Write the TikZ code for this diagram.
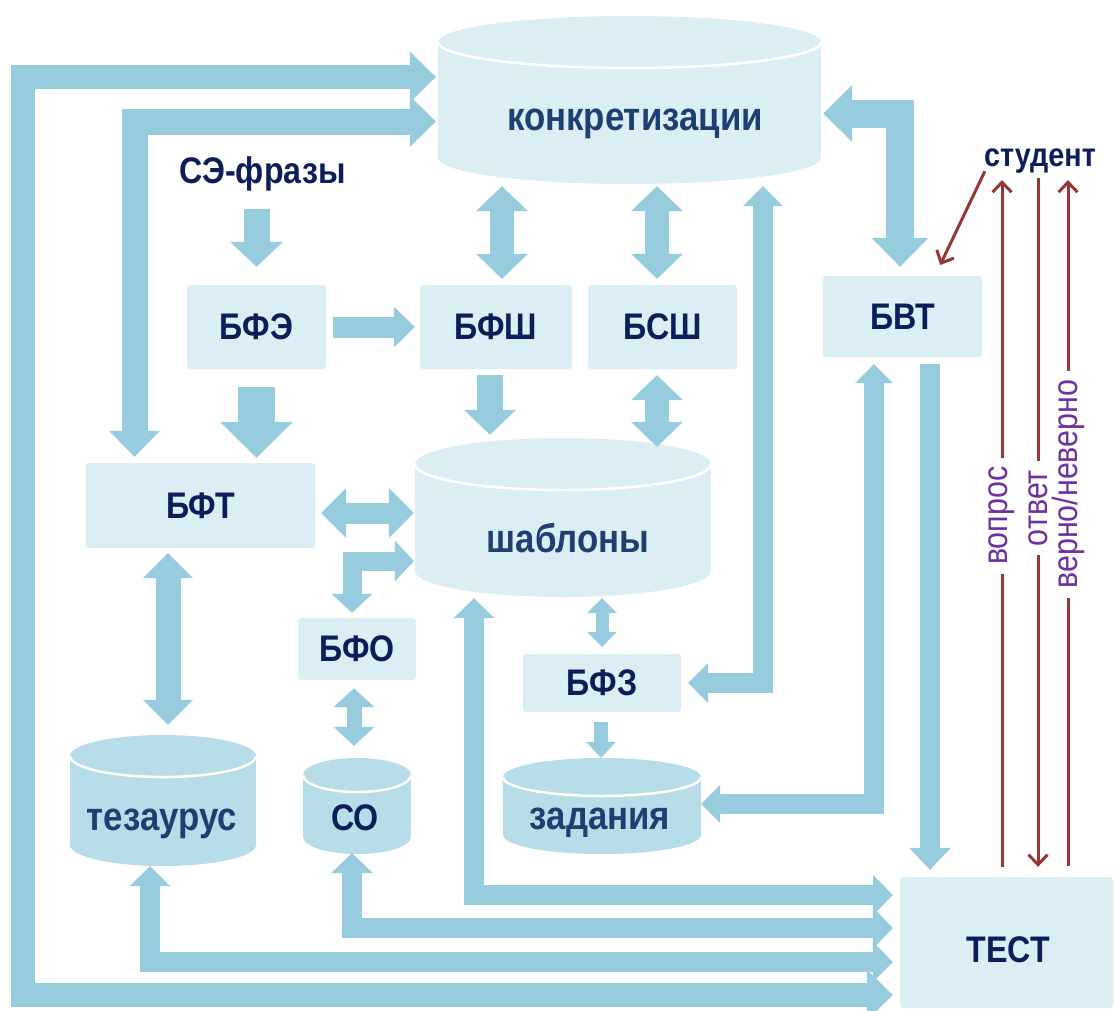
\documentclass[tikz,border=0pt]{standalone}
\usepackage{fontspec}
\setmainfont{Liberation Sans}[FakeStretch=0.87]
\usetikzlibrary{arrows.meta}
\definecolor{boxc}{HTML}{DBEEF4}
\definecolor{cylc}{HTML}{B7DDE8}
\definecolor{arrc}{HTML}{96CCDD}
\definecolor{navy}{HTML}{0C1E5A}
\definecolor{lblue}{HTML}{1F3E72}
\definecolor{redc}{HTML}{953735}
\definecolor{purp}{HTML}{7030A0}
% cx, top-centre y, bottom-centre y, rx, ry, colour
\newcommand{\cylshape}[6]{%
  \fill[#6] (#1,#3) ellipse [x radius=#4, y radius=#5];
  \fill[#6] (#1-#4,#2) rectangle (#1+#4,#3);
  \fill[#6] (#1,#2) ellipse [x radius=#4, y radius=#5];
  \begin{scope}
    \clip (#1-#4-5,#2) rectangle (#1+#4+5,#2+#5+5);
    \draw[white, line width=2.5pt] (#1,#2) ellipse [x radius=#4, y radius=#5];
  \end{scope}}
\begin{document}
\begin{tikzpicture}[x=1pt,y=-1pt,
  box/.style={fill=boxc, rounded corners=3pt, inner sep=0pt},
  upl/.style={text=navy, font=\bfseries\fontsize{37}{40}\selectfont},
  lowl/.style={text=lblue, font=\bfseries\fontsize{40}{44}\selectfont, inner sep=0pt, anchor=base},
  hold/.style={inner sep=0pt},
  conn/.style={draw=arrc, line width=#1, line join=miter},
  one/.style n args={3}{conn=#1, arrows={-{Triangle[length=#2,width=#3,line width=0pt]}}},
  two/.style n args={3}{conn=#1, arrows={{Triangle[length=#2,width=#3,line width=0pt]}-{Triangle[length=#2,width=#3,line width=0pt]}}},
  redln/.style={draw=redc, line width=3pt, arrows={-{Straight Barb[length=10pt,width=19pt]}}},
  vlab/.style={rotate=90, fill=white, text=purp, font=\fontsize{35}{38}\selectfont, inner xsep=9pt, inner ysep=1pt},
]
\useasboundingbox (0,0) rectangle (1115,1010);

% cylinders
\cylshape{629.5}{42}{158}{191.5}{26}{boxc}
\cylshape{563}{464}{571}{148}{26}{boxc}
\cylshape{163}{756}{845}{93}{21}{cylc}
\cylshape{357}{775}{837}{54}{17}{cylc}
\cylshape{602}{777}{835}{99}{19}{cylc}
\node[hold, minimum width=383pt, minimum height=168pt] (kon) at (629.5,100) {};
\node[hold, minimum width=296pt, minimum height=159pt] (shab) at (563,517.5) {};
\node[hold, minimum width=186pt, minimum height=131pt] (tez) at (163,800.5) {};
\node[hold, minimum width=108pt, minimum height=96pt] (co) at (357,806) {};
\node[hold, minimum width=198pt, minimum height=96pt] (zad) at (602,806) {};
\node[lowl] (kont) at (635,130) {конкретизации};
\node[lowl] (shabt) at (568,552) {шаблоны};
\node[lowl] (tezt) at (162,830) {тезаурус};
\node[upl, inner sep=0pt, anchor=base] (cot) at (355,830) {СО};
\node[lowl] (zadt) at (600,829) {задания};

% texts
\node[upl, inner sep=0pt, anchor=base] (se) at (262.5,183) {СЭ-фразы};
\node[text=navy, font=\bfseries\fontsize{33}{36}\selectfont, inner sep=0pt, anchor=base] (stud) at (1040,166) {студент};

% boxes
\node[box, upl, minimum width=139pt, minimum height=84pt] (bfe) at (256.5,327) {БФЭ};
\node[box, upl, minimum width=152pt, minimum height=84pt] (bfsh) at (496,327) {БФШ};
\node[box, upl, minimum width=149pt, minimum height=84pt] (bssh) at (662.5,327) {БСШ};
\node[box, upl, minimum width=159pt, minimum height=81pt] (bvt) at (902.5,316.5) {БВТ};
\node[box, upl, minimum width=229pt, minimum height=85pt] (bft) at (200.5,505.5) {БФТ};
\node[box, upl, minimum width=118pt, minimum height=62pt] (bfo) at (357,649) {БФО};
\node[box, upl, minimum width=158pt, minimum height=58pt] (bfz) at (602,683) {БФЗ};
\node[box, minimum width=213pt, minimum height=131pt] (test) at (1006.5,942.5) {};
\node[upl, inner sep=0pt] (testt) at (1008,950) {ТЕСТ};

% block connectors
\draw[one={26pt}{25pt}{53pt}, shorten <=26pt, shorten >=18pt] (bfe.north |- se.base) -- (bfe.north);
\draw[one={21pt}{21pt}{41pt}, shorten <=7pt, shorten >=5pt] (bfe.east) -- (bfsh.west);
\draw[one={37pt}{36pt}{73pt}, shorten <=18pt, shorten >=5pt] (bfe.south) -- (bfe.south |- bft.north);
\draw[two={24pt}{25pt}{52pt}, shorten <=2pt, shorten >=6pt] (kon.south -| 502,0) -- (bfsh.north -| 502,0);
\draw[two={24pt}{25pt}{52pt}, shorten <=2pt, shorten >=6pt] (kon.south -| 657,0) -- (bssh.north -| 657,0);
\draw[two={24pt}{25pt}{52pt}, shorten <=6pt, shorten >=-9pt] (bssh.south -| 657,0) -- (shab.north -| 657,0);
\draw[one={26pt}{25pt}{52pt}, shorten <=6pt, shorten >=3pt] (bfsh.south -| 490,0) -- (shab.north -| 490,0);
\draw[two={21pt}{25pt}{50pt}, shorten <=6pt, shorten >=1pt] (bft.east |- 0,513) -- (shab.west |- 0,513);
\draw[two={25pt}{25pt}{50pt}, shorten <=5pt, shorten >=10pt] (bft.south -| 168,0) -- (tez.north -| 168,0);
\draw[two={19pt}{19pt}{41pt}, shorten <=1pt, shorten >=5pt] (shab.west |- 0,561) -| (bfo.north -| 352,0);
\draw[two={15pt}{19pt}{41pt}, shorten <=8pt, shorten >=12pt] (bfo.south -| 354,0) -- (co.north -| 354,0);
\draw[two={13pt}{15pt}{30pt}, shorten <=1pt, shorten >=7pt] (shab.south -| 602,0) -- (bfz.north -| 602,0);
\draw[one={14pt}{16pt}{30pt}, shorten <=10pt] (bfz.south -| 601,0) -- (zad.north -| 601,0);
\draw[two={20pt}{20pt}{40pt}, shorten <=7pt, shorten >=2pt] (bfz.east) -| (kon.south -| 763,0);
\draw[two={28pt}{29pt}{57pt}, shorten <=2pt, shorten >=9pt] (kon.east |- 0,113.5) -| (bvt.north -| 900,0);
\draw[two={20pt}{19pt}{38pt}, shorten >=7pt] (zad.east |- 0,804) -| (bvt.south -| 874,0);
\draw[one={20pt}{22pt}{42pt}, shorten <=7pt, shorten >=7pt] (bvt.south -| 930,0) -- (test.north -| 930,0);
\draw[two={20pt}{20pt}{41pt}, shorten <=1pt, shorten >=7pt] (shab.south -| 474,0) |- (test.west |- 0,895);
\draw[two={20pt}{20pt}{42pt}, shorten <=-1pt, shorten >=7pt] (co.south -| 352,0) |- (test.west |- 0,928);
\draw[two={20pt}{20pt}{41pt}, shorten >=7pt] (tez.south -| 150,0) |- (test.west |- 0,962);
\draw[two={24pt}{26pt}{51pt}, shorten <=2pt, shorten >=7pt] (kon.west |- 0,77) -- (23,77) -- (23,995) -- (test.west |- 0,995);
\draw[two={26pt}{26pt}{51pt}, shorten <=2pt, shorten >=6pt] (kon.west |- 0,121.5) -| (bft.north -| 134.5,0);

% student connectors
\draw[redln, shorten <=-2pt, shorten >=12pt] (stud.south west) -- (bvt.north -| 935,0);
\draw[redln, shorten <=10pt, shorten >=7pt] (test.north -| 1002,0) -- (stud.south -| 1002,0) node[vlab, pos=0.513] (vopr) {вопрос};
\draw[redln, shorten <=5pt, shorten >=10pt] (stud.south -| 1038,0) -- (test.north -| 1038,0) node[vlab, pos=0.476] (otv) {ответ};
\draw[redln, shorten <=11pt, shorten >=7pt] (test.north -| 1068,0) -- (stud.south -| 1068,0) node[vlab, pos=0.558] (vern) {верно/неверно};
\end{tikzpicture}
\end{document}
